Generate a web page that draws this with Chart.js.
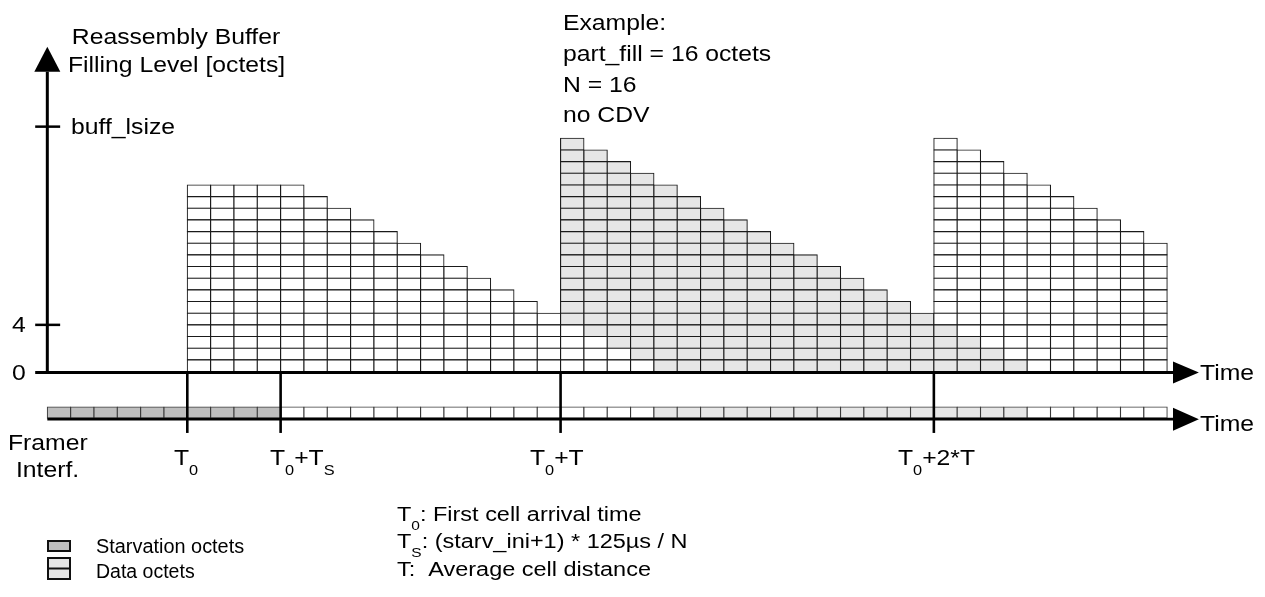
<!DOCTYPE html>
<html>
<head>
<meta charset="utf-8">
<title>Reassembly Buffer Filling Level</title>
<script src="https://cdn.jsdelivr.net/npm/chart.js@4"></script>
<style>
  html, body { margin: 0; padding: 0; background: #fff; }
  #wrap { width: 1265px; height: 597px; position: relative; }
</style>
</head>
<body>
<div id="wrap"><canvas id="bufferChart"></canvas></div>
<script>
// Filling level of the reassembly buffer (octets), one value per 125us/N column from T0
const fillLevel = [16, 16, 16, 16, 16, 15, 14, 13, 12, 11, 10, 9, 8, 7, 6, 5,
                   20, 19, 18, 17, 16, 15, 14, 13, 12, 11, 10, 9, 8, 7, 6, 5,
                   20, 19, 18, 17, 16, 15, 14, 13, 12, 11];
// Octets still left over from the previous cell (bottom of the column)
const oldOctets = [0, 0, 0, 0, 0, 0, 0, 0, 0, 0, 0, 0, 0, 0, 0, 0,
                   4, 3, 2, 1, 0, 0, 0, 0, 0, 0, 0, 0, 0, 0, 0, 0,
                   4, 3, 2, 1, 0, 0, 0, 0, 0, 0];
// Cell the newest octets belong to (0 = first cell, arrived at T0)
const cellNumber = [0, 0, 0, 0, 0, 0, 0, 0, 0, 0, 0, 0, 0, 0, 0, 0,
                    1, 1, 1, 1, 1, 1, 1, 1, 1, 1, 1, 1, 1, 1, 1, 1,
                    2, 2, 2, 2, 2, 2, 2, 2, 2, 2];
// Octets sent on the framer interface, starting 6 slots before T0
// 0 = starvation octet, 1..3 = data octet of cell 0..2
const framerSlots = [0, 0, 0, 0, 0, 0, 0, 0, 0, 0,
                     1, 1, 1, 1, 1, 1, 1, 1, 1, 1, 1, 1, 1, 1, 1, 1,
                     2, 2, 2, 2, 2, 2, 2, 2, 2, 2, 2, 2, 2, 2, 2, 2,
                     3, 3, 3, 3, 3, 3];
const framerStart = -6;
// Time marks (column index) and their labels, "_" makes the next char a subscript
const timeMarks = [0, 4, 16, 32];
const timeLabels = ['T_0', 'T_0+T_S', 'T_0+T', 'T_0+2*T'];
// Filling level ticks
const levelTicks = [0, 4, 21];
const levelLabels = ['0', '4', 'buff_lsize'];

const WHITE = '#ffffff';
const LIGHT = '#e6e6e6';
const STARV = '#bebebe';
const LINE = '#1a1a1a';
const FONT = '"Liberation Sans", Arial, Helvetica, sans-serif';
const STRETCH = 1.15;

function cellFill(cell) {
  return cell % 2 === 1 ? LIGHT : WHITE;
}

// one dataset per octet row, so every octet is its own box
const datasets = [];
const maxLevel = Math.max(...fillLevel);
for (let r = 0; r < maxLevel; r++) {
  const points = [];
  const colors = [];
  fillLevel.forEach((lvl, j) => {
    if (lvl > r) {
      points.push({ x: j + 0.5, y: [r, r + 1] });
      const cell = r < oldOctets[j] ? cellNumber[j] - 1 : cellNumber[j];
      colors.push(cellFill(cell));
    }
  });
  datasets.push({ label: 'row ' + r, data: points, backgroundColor: colors });
}

// framer interface row sits under the time axis
const FRAMER_ROW = [-4, -3.05];
datasets.push({
  label: 'framer',
  data: framerSlots.map((s, k) => ({ x: framerStart + k + 0.5, y: FRAMER_ROW })),
  backgroundColor: framerSlots.map(s => s === 0 ? STARV : cellFill(s - 1)),
  borderColor: '#3a3a3a'
});

// draw a string, "_" before a char makes it a subscript
function drawRich(ctx, str, x, y, size, align, stretch) {
  const sx = stretch || STRETCH;
  const parts = [];
  for (let i = 0; i < str.length; i++) {
    if (str[i] === '_' && i + 1 < str.length && /[0-9S]/.test(str[i + 1])) {
      parts.push({ t: str[i + 1], sub: true });
      i++;
    } else if (parts.length && !parts[parts.length - 1].sub) {
      parts[parts.length - 1].t += str[i];
    } else {
      parts.push({ t: str[i], sub: false });
    }
  }
  let total = 0;
  parts.forEach(p => {
    p.size = p.sub ? size * 0.66 : size;
    ctx.font = p.size + 'px ' + FONT;
    p.w = ctx.measureText(p.t).width * sx;
    total += p.w;
  });
  let cx = align === 'center' ? x - total / 2 : x;
  parts.forEach(p => {
    ctx.save();
    ctx.font = p.size + 'px ' + FONT;
    ctx.translate(cx, y + (p.sub ? size * 0.45 : 0));
    ctx.scale(sx, 1);
    ctx.fillText(p.t, 0, 0);
    ctx.restore();
    cx += p.w;
  });
}

function arrowRight(ctx, x, y, len, half) {
  ctx.beginPath();
  ctx.moveTo(x, y - half);
  ctx.lineTo(x + len, y);
  ctx.lineTo(x, y + half);
  ctx.closePath();
  ctx.fill();
}

const decorations = {
  id: 'decorations',
  afterDatasetsDraw(chart) {
    const ctx = chart.ctx;
    const xs = chart.scales.x;
    const ys = chart.scales.y;
    const px = v => xs.getPixelForValue(v);
    const py = v => ys.getPixelForValue(v);
    ctx.save();
    ctx.fillStyle = '#000';
    ctx.strokeStyle = '#000';
    ctx.lineCap = 'butt';

    const axisX = px(framerStart);
    const leftEnd = px(framerStart - 0.52);
    const tickEnd = px(framerStart + 0.55);
    const y0 = py(0) + 1;
    const arrowBase = px(42.25);

    // level axis with arrow
    ctx.lineWidth = 3;
    ctx.beginPath();
    ctx.moveTo(axisX, y0 + 1.5);
    ctx.lineTo(axisX, py(25.7));
    ctx.stroke();
    ctx.beginPath();
    ctx.moveTo(axisX - 13, py(25.7));
    ctx.lineTo(axisX, py(27.85));
    ctx.lineTo(axisX + 13, py(25.7));
    ctx.closePath();
    ctx.fill();

    // level ticks
    ctx.lineWidth = 2.5;
    levelTicks.forEach(v => {
      if (v === 0) return;
      ctx.beginPath();
      ctx.moveTo(leftEnd, py(v));
      ctx.lineTo(tickEnd, py(v));
      ctx.stroke();
    });

    // time axis of the buffer
    ctx.lineWidth = 3;
    ctx.beginPath();
    ctx.moveTo(leftEnd, y0);
    ctx.lineTo(arrowBase + 2, y0);
    ctx.stroke();
    arrowRight(ctx, arrowBase, y0, px(43.36) - arrowBase, 11);

    // time axis of the framer interface
    const yF = py(FRAMER_ROW[0]) + 1;
    ctx.lineWidth = 2.7;
    ctx.beginPath();
    ctx.moveTo(axisX, yF);
    ctx.lineTo(arrowBase + 2, yF);
    ctx.stroke();
    arrowRight(ctx, arrowBase, yF, px(43.36) - arrowBase, 11.5);

    // time marks
    ctx.lineWidth = 2.6;
    timeMarks.forEach(m => {
      ctx.beginPath();
      ctx.moveTo(px(m), y0);
      ctx.lineTo(px(m), py(-5.27));
      ctx.stroke();
    });

    // texts
    ctx.textBaseline = 'alphabetic';
    const S = 21.5;
    drawRich(ctx, 'Reassembly Buffer', 176, 43.5, S, 'center');
    drawRich(ctx, 'Filling Level [octets]', 68, 72, S, 'left');
    drawRich(ctx, levelLabels[2], 71, py(levelTicks[2]) + 7.5, S, 'left');
    drawRich(ctx, levelLabels[1], 19, py(levelTicks[1]) + 7.5, S, 'center');
    drawRich(ctx, levelLabels[0], 19, py(levelTicks[0]) + 8, S, 'center');

    drawRich(ctx, 'Example:', 563, 30, S, 'left');
    drawRich(ctx, 'part_fill = 16 octets', 563, 61, S, 'left');
    drawRich(ctx, 'N = 16', 563, 92, S, 'left');
    drawRich(ctx, 'no CDV', 563, 122, S, 'left');

    drawRich(ctx, 'Time', 1200, y0 + 7.5, S, 'left');
    drawRich(ctx, 'Time', 1200, yF + 12, S, 'left');
    drawRich(ctx, 'Framer', 8, 450, S, 'left');
    drawRich(ctx, 'Interf.', 16, 477, S, 'left');

    const labelX = [186, 270, 530, 898];
    timeLabels.forEach((t, i) => {
      drawRich(ctx, t, labelX[i], 465, S, i === 0 ? 'center' : 'left');
    });

    drawRich(ctx, 'T_0: First cell arrival time', 397, 521, S * 0.95, 'left');
    drawRich(ctx, 'T_S: (starv_ini+1) * 125\u00b5s / N', 397, 548, S * 0.95, 'left');
    drawRich(ctx, 'T:  Average cell distance', 397, 576, S * 0.95, 'left');

    // legend
    ctx.lineWidth = 2;
    ctx.fillStyle = STARV;
    ctx.fillRect(48, 541, 22, 10);
    ctx.strokeStyle = '#111';
    ctx.strokeRect(48, 541, 22, 10);
    ctx.fillStyle = LIGHT;
    ctx.fillRect(48, 558, 22, 21);
    ctx.strokeRect(48, 558, 22, 21);
    ctx.beginPath();
    ctx.moveTo(48, 568.5);
    ctx.lineTo(70, 568.5);
    ctx.stroke();
    ctx.fillStyle = '#000';
    drawRich(ctx, 'Starvation octets', 96, 553, 19.5, 'left', 1.02);
    drawRich(ctx, 'Data octets', 96, 578, 19.5, 'left', 1.0);
    ctx.restore();
  }
};

// pixel scale: one column = 23.33 px, one octet = 11.66 px
const COL_PX = 23.33, OCT_PX = 11.66;
const X0_PX = 187.3, Y0_PX = 371.5;
const W = 1265, H = 597;

new Chart(document.getElementById('bufferChart'), {
  type: 'bar',
  data: { datasets: datasets },
  options: {
    responsive: true,
    maintainAspectRatio: false,
    animation: false,
    events: [],
    layout: { padding: 0 },
    datasets: {
      bar: {
        grouped: false,
        barPercentage: 1,
        categoryPercentage: 1,
        borderWidth: 1.1,
        borderColor: LINE,
        borderSkipped: false,
        inflateAmount: 0.55
      }
    },
    scales: {
      x: {
        type: 'linear',
        display: false,
        offset: false,
        grid: { offset: false },
        min: -X0_PX / COL_PX,
        max: (W - X0_PX) / COL_PX,
        ticks: { stepSize: 50 }
      },
      y: {
        type: 'linear',
        display: false,
        min: (Y0_PX - H) / OCT_PX,
        max: Y0_PX / OCT_PX
      }
    },
    plugins: {
      legend: { display: false },
      tooltip: { enabled: false }
    }
  },
  plugins: [decorations]
});
</script>
</body>
</html>
